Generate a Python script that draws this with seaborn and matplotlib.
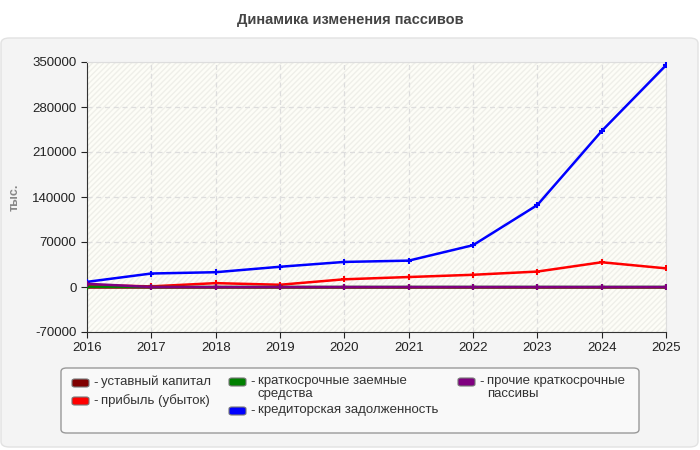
import pandas as pd
import numpy as np
import matplotlib.pyplot as plt
import seaborn as sns
from matplotlib.patches import FancyBboxPatch

years = [2016, 2017, 2018, 2019, 2020, 2021, 2022, 2023, 2024, 2025]
ustavny = [10, 10, 10, 10, 10, 10, 10, 10, 10, 10]
pribyl = [3000, 1000, 6000, 3500, 12000, 15500, 19000, 24000, 38500, 29000]
kratk_zaem = [500, 0, 0, 0, 0, 0, 0, 0, 0, 0]
kreditor = [8000, 21000, 23000, 31500, 39000, 41000, 65000, 127500, 242600, 345000]
prochie = [5000, 0, 0, 0, 0, 0, 0, 0, 0, 0]

series_names = ['уставный капитал', 'прибыль (убыток)', 'краткосрочные заемные\nсредства',
                'кредиторская задолженность', 'прочие краткосрочные\nпассивы']
series_values = [ustavny, pribyl, kratk_zaem, kreditor, prochie]
colors = ['#800000', '#ff0000', '#008000', '#0000ff', '#800080']
y_ticks = [-70000, 0, 70000, 140000, 210000, 280000, 350000]

sns.set_style('white')
plt.rcParams['font.family'] = ['Liberation Sans', 'DejaVu Sans']

W, H = 700, 450
fig = plt.figure(figsize=(7, 4.5), dpi=100)
fig.patch.set_facecolor('white')


def fx(px):
    return px / W


def fy(py):
    return 1 - py / H


# gray panel behind chart and legend
panel = FancyBboxPatch((fx(1), fy(447)), fx(697), 409 / H,
                       boxstyle='round,pad=0,rounding_size=0.012',
                       transform=fig.transFigure, facecolor='#f4f4f4', edgecolor='#e2e2e2',
                       linewidth=1, zorder=-2)
fig.patches.append(panel)

# legend frame
leg_box = FancyBboxPatch((fx(61), fy(433)), fx(578), 65 / H,
                         boxstyle='round,pad=0,rounding_size=0.008',
                         transform=fig.transFigure, facecolor='#f9f9f9', edgecolor='#999999',
                         linewidth=1, zorder=-1)
fig.patches.append(leg_box)

fig.text(0.5, fy(20), 'Динамика изменения пассивов', ha='center', va='center',
         fontsize=10.5, fontweight='bold', color='#444444')

ax = fig.add_axes([fx(87), fy(332), fx(579), 270 / H])
ax.set_facecolor('#fdfdf7')
ax.patch.set_hatch('//////')
ax.patch.set_edgecolor('#efefe9')

for name, vals, c in zip(series_names, series_values, colors):
    sns.lineplot(x=years, y=vals, color=c, marker='+', markersize=5,
                 markeredgewidth=1.5, markeredgecolor=c, linewidth=1.8, ax=ax, zorder=3)

ax.set_xlim(2016, 2025)
ax.set_ylim(-70000, 350000)
ax.set_xticks(years)
ax.set_yticks(y_ticks)
ax.set_yticklabels([str(t) for t in y_ticks])
ax.tick_params(labelsize=9.5, colors='#222222', length=4, direction='out', left=True, bottom=True)
ax.grid(True, linestyle=(0, (4, 3)), color='#dddddd', linewidth=0.9)
ax.set_axisbelow(True)
ax.set_xlabel('')
ax.set_ylabel('тыс.', fontsize=9, fontweight='bold', color='#888888', labelpad=8)
for side in ['top', 'right']:
    ax.spines[side].set_color('#dddddd')
for side in ['left', 'bottom']:
    ax.spines[side].set_color('#333333')

# legend drawn by hand: swatch, dash, label (first line aligned with swatch)
legend_pos = [(72, 383), (72, 401), (229, 382), (229, 411), (458, 382)]
for (x0, y0), name, c in zip(legend_pos, series_names, colors):
    sw = FancyBboxPatch((fx(x0), fy(y0 + 4)), fx(17), 8 / H,
                        boxstyle='round,pad=0,rounding_size=0.004',
                        transform=fig.transFigure, facecolor=c, edgecolor='#777777',
                        linewidth=0.8)
    fig.patches.append(sw)
    fig.text(fx(x0 + 21), fy(y0), '-', ha='left', va='center', fontsize=9.5, color='#333333')
    fig.text(fx(x0 + 29), fy(y0 - 7), name, ha='left', va='top', fontsize=9.5,
             color='#333333', linespacing=1.1)

plt.savefig('out.png', dpi=100)
